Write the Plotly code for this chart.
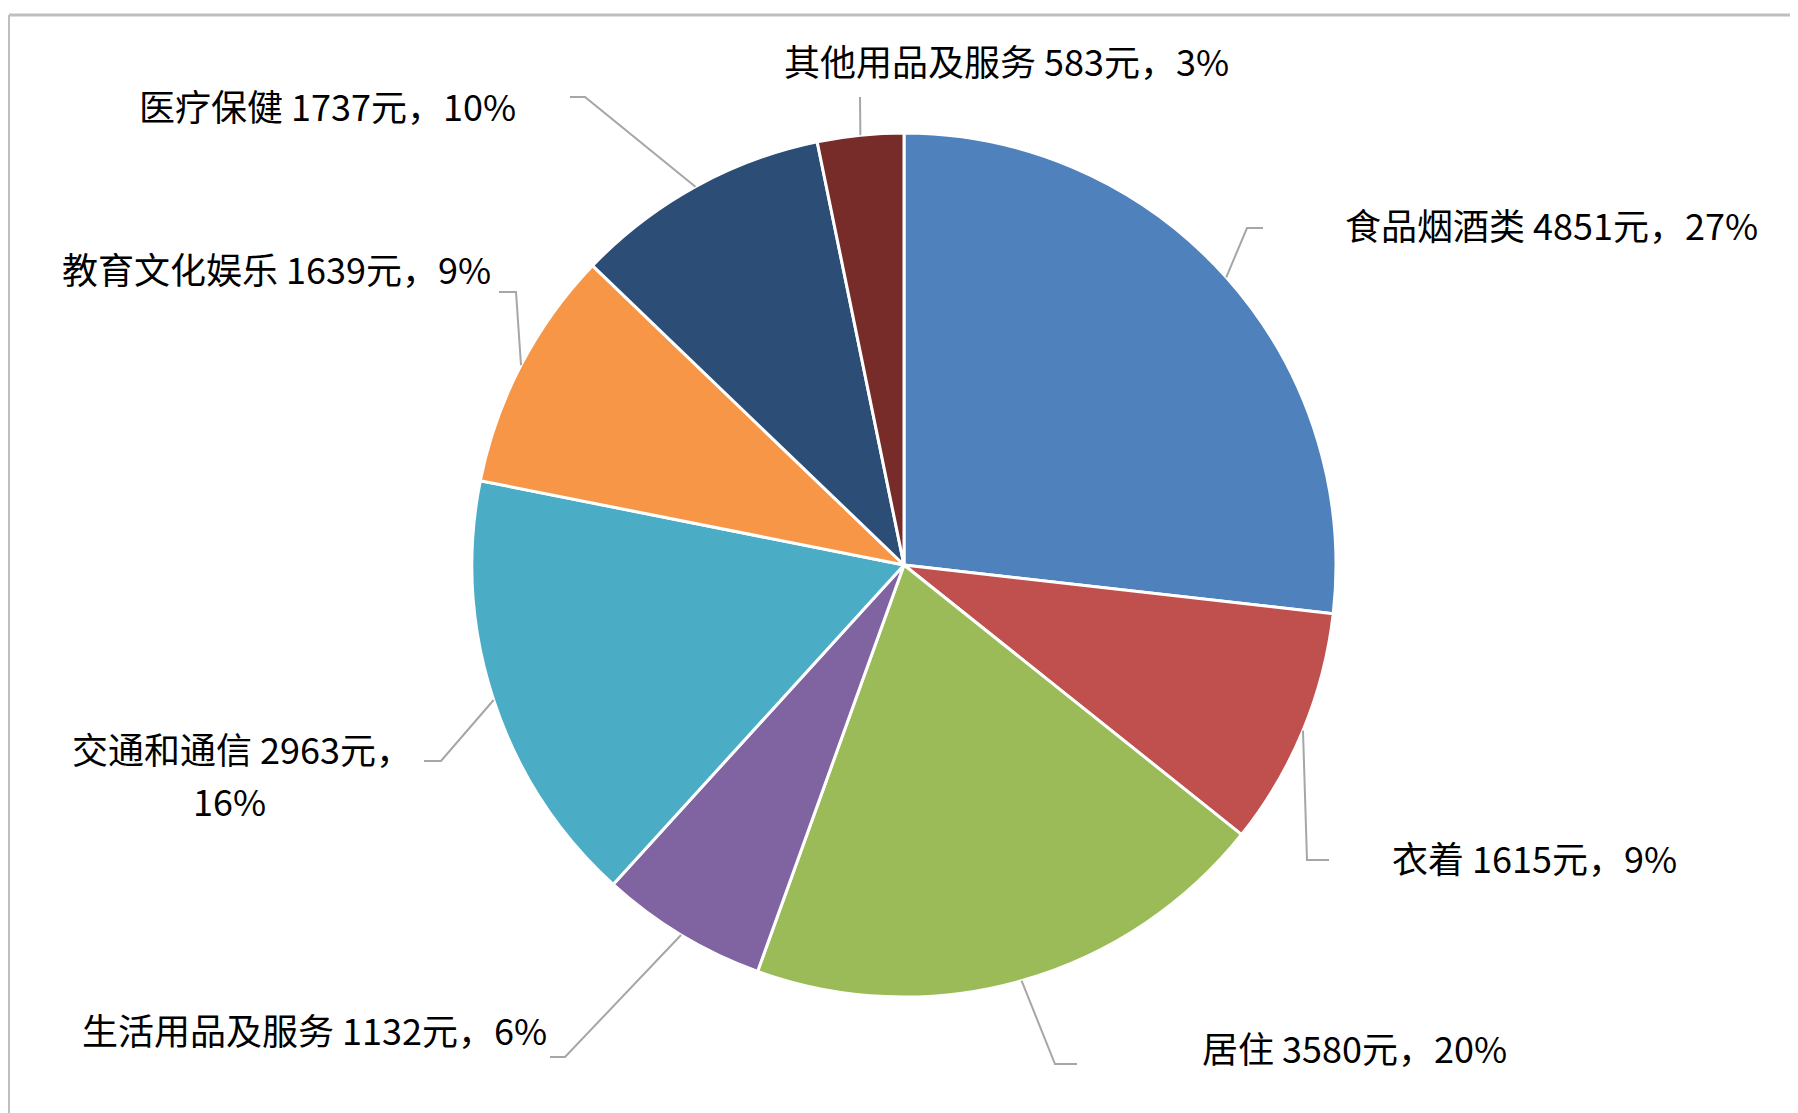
import math
import plotly.graph_objects as go

# ---- data ----
categories = ["食品烟酒类", "衣着", "居住", "生活用品及服务",
              "交通和通信", "教育文化娱乐", "医疗保健", "其他用品及服务"]
values = [4851, 1615, 3580, 1132, 2963, 1639, 1737, 583]
unit = "元"

# ---- style ----
colors = ["#4F81BD", "#C0504D", "#9BBB59", "#8064A2",
          "#4BACC6", "#F79646", "#2C4D75", "#772C2A"]

W, H = 1798, 1113
OFF = 8                             # page body margin offset
CX, CY, R = 904, 565, 432           # pie geometry in page pixels
FONT = "Noto Sans CJK SC, SimSun, sans-serif"
FS = 36

def px(x):
    return (x - OFF) / W

def py(y):
    return 1 - (y - OFF) / H

# label placement (page pixels): text anchor x, y, xanchor, optional second line, leader bend points
label_layout = [
    dict(x=1344, y=224, xa="left",   l2=None, pts=[(1247, 228), (1263, 228)]),
    dict(x=1391, y=857, xa="left",   l2=None, pts=[(1307, 860), (1329, 860)]),
    dict(x=1201, y=1047, xa="left",  l2=None, pts=[(1055, 1064), (1077, 1064)]),
    dict(x=548, y=1029, xa="right",  l2=None, pts=[(565, 1057), (550, 1057)]),
    dict(x=413, y=748, xa="right",   l2=(229, 800), pts=[(441, 761), (424, 761)]),
    dict(x=492, y=268, xa="right",   l2=None, pts=[(516, 292), (499, 292)]),
    dict(x=517, y=105, xa="right",   l2=None, pts=[(585, 97), (570, 97)]),
    dict(x=783, y=60, xa="left",     l2=None, pts=[(860, 97)]),
]

total = sum(values)

fig = go.Figure(go.Pie(
    labels=categories,
    values=values,
    sort=False,
    direction="clockwise",
    rotation=0,
    marker=dict(colors=colors, line=dict(color="white", width=3)),
    textinfo="none",
    hoverinfo="label+value+percent",
    domain=dict(x=[px(CX - R), px(CX + R)], y=[py(CY + R), py(CY - R)]),
    showlegend=False,
))

annotations = []
shapes = []
cum = 0
for cat, v, lay in zip(categories, values, label_layout):
    mid = (cum + v / 2) / total
    cum += v
    theta = 2 * math.pi * mid
    ex = CX + R * math.sin(theta)
    ey = CY - R * math.cos(theta)
    pct = f"{round(v / total * 100)}%"
    font = dict(family=FONT, size=FS, color="#000000")
    if lay["l2"] is None:
        annotations.append(dict(
            x=px(lay["x"]), y=py(lay["y"]), xref="paper", yref="paper",
            text=f"{cat} {v}{unit}，{pct}", showarrow=False,
            xanchor=lay["xa"], yanchor="middle", font=font, borderpad=0))
    else:
        annotations.append(dict(
            x=px(lay["x"]), y=py(lay["y"]), xref="paper", yref="paper",
            text=f"{cat} {v}{unit}，", showarrow=False,
            xanchor=lay["xa"], yanchor="middle", font=font, borderpad=0))
        x2, y2 = lay["l2"]
        annotations.append(dict(
            x=px(x2), y=py(y2), xref="paper", yref="paper",
            text=pct, showarrow=False,
            xanchor="center", yanchor="middle", font=font, borderpad=0))
    path = f"M {px(ex)},{py(ey)}"
    for (qx, qy) in lay["pts"]:
        path += f" L {px(qx)},{py(qy)}"
    shapes.append(dict(type="path", xref="paper", yref="paper", path=path,
                       line=dict(color="#A6A6A6", width=2)))

# chart-area frame (top and left edges visible)
shapes.append(dict(type="line", xref="paper", yref="paper",
                   x0=px(OFF + 1), x1=1, y0=py(15), y1=py(15),
                   line=dict(color="#BFBFBF", width=3)))
shapes.append(dict(type="line", xref="paper", yref="paper",
                   x0=px(OFF + 1), x1=px(OFF + 1), y0=py(15), y1=0,
                   line=dict(color="#BFBFBF", width=2)))

fig.update_layout(
    width=W, height=H,
    margin=dict(l=0, r=0, t=0, b=0),
    paper_bgcolor="white",
    plot_bgcolor="white",
    annotations=annotations,
    shapes=shapes,
)

fig.write_html("out.html")
